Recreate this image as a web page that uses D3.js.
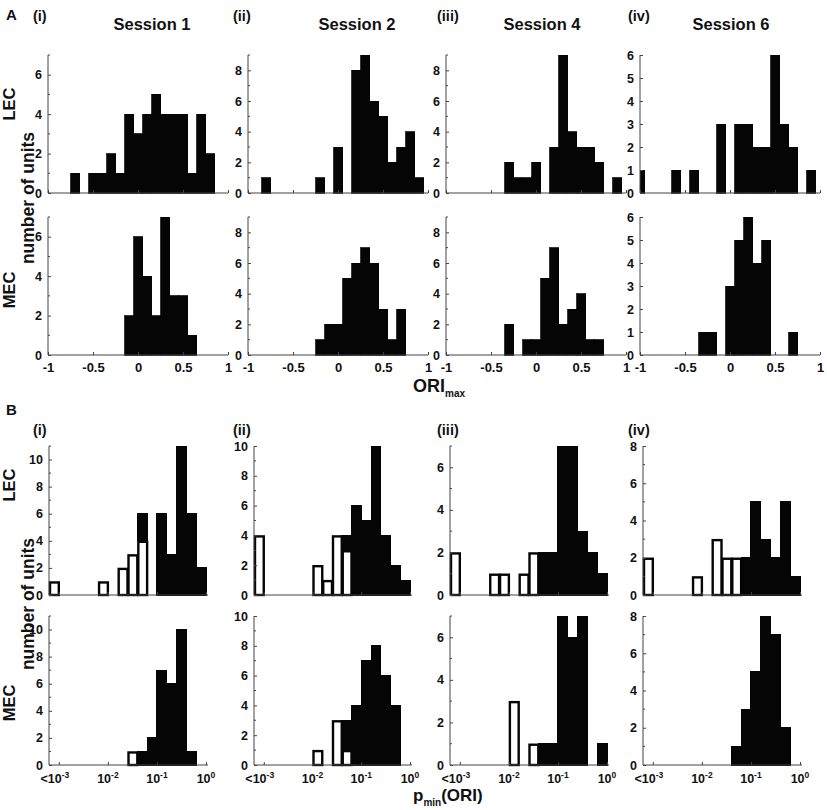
<!DOCTYPE html>
<html><head><meta charset="utf-8">
<script src="https://cdn.jsdelivr.net/npm/d3@7"></script>
<style>
html,body{margin:0;padding:0;background:#fff;}
svg text{font-family:"Liberation Sans",Arial,sans-serif;font-weight:bold;fill:#111;}
</style></head>
<body><svg id="c" width="827" height="810"></svg>
<script>
// ---------- DATA ----------
const sessions = ["Session 1", "Session 2", "Session 4", "Session 6"];
const romans = ["(i)", "(ii)", "(iii)", "(iv)"];
// Panel A: ORI_max histogram bin centres
const oriCenters = [-1.0,-0.9,-0.8,-0.7,-0.6,-0.5,-0.4,-0.3,-0.2,-0.1,0.0,0.1,0.2,0.3,0.4,0.5,0.6,0.7,0.8,0.9,1.0];
const oriTicks = [-1, -0.5, 0, 0.5, 1];
const oriTickLabels = ["-1", "-0.5", "0", "0.5", "1"];
const aLEC_s1 = [0,0,0,1,0,1,1,2,1,4,3,4,5,4,4,4,1,4,2,0,0];
const aLEC_s2 = [0,0,1,0,0,0,0,0,1,0,3,0,8,9,6,5,2,3,4,1,0];
const aLEC_s4 = [0,0,0,0,0,0,0,2,1,1,2,0,3,9,4,3,3,2,0,1,0];
const aLEC_s6 = [1,0,0,0,1,0,1,0,0,3,0,3,3,2,2,6,3,2,0,1,0];
const aMEC_s1 = [0,0,0,0,0,0,0,0,0,2,6,4,2,7,3,3,1,0,0,0,0];
const aMEC_s2 = [0,0,0,0,0,0,0,0,1,2,2,5,6,7,6,3,1,3,0,0,0];
const aMEC_s4 = [0,0,0,0,0,0,0,2,0,1,1,5,7,2,3,4,1,1,0,0,0];
const aMEC_s6 = [0,0,0,0,0,0,0,1,1,0,3,5,6,4,5,0,0,1,0,0,0];
const aLECmax = [7, 9, 9, 6];
const aMECmax = [7, 9, 9, 6];
const aLECyTicks = [[0,2,4,6],[0,2,4,6,8],[0,2,4,6,8],[0,1,2,3,4,5,6]];
const aMECyTicks = [[0,2,4,6],[0,2,4,6,8],[0,2,4,6,8],[0,1,2,3,4,5,6]];
// Panel B: log10 p_min(ORI) bin edges (first bin collects p < 10^-3)
const pBinEdges = [-3.2,-3.0,-2.8,-2.6,-2.4,-2.2,-2.0,-1.8,-1.6,-1.4,-1.2,-1.0,-0.8,-0.6,-0.4,-0.2,0.0];
const pTicks = [-3, -2, -1, 0];
const pTickBase = ["<10", "10", "10", "10"];
const pTickExp = ["-3", "-2", "-1", "0"];
// open (white) = significant units, filled (black) = non-significant
const bLEC_s1_open = [1,0,0,0,0,1,0,2,3,4,0,0,0,0,0,0];
const bLEC_s1_fill = [0,0,0,0,0,0,0,0,0,2,0,6,3,11,6,2];
const bLEC_s2_open = [4,0,0,0,0,0,2,1,4,3,0,0,0,0,0,0];
const bLEC_s2_fill = [0,0,0,0,0,0,0,0,0,1,6,5,10,4,2,1];
const bLEC_s4_open = [2,0,0,0,1,1,0,1,2,0,0,0,0,0,0,0];
const bLEC_s4_fill = [0,0,0,0,0,0,0,0,0,2,2,7,7,3,2,1];
const bLEC_s6_open = [2,0,0,0,0,1,0,3,2,2,0,0,0,0,0,0];
const bLEC_s6_fill = [0,0,0,0,0,0,0,0,0,0,2,5,3,2,5,1];
const bMEC_s1_open = [0,0,0,0,0,0,0,0,1,0,0,0,0,0,0,0];
const bMEC_s1_fill = [0,0,0,0,0,0,0,0,0,1,2,7,6,10,1,0];
const bMEC_s2_open = [0,0,0,0,0,0,1,0,3,1,0,0,0,0,0,0];
const bMEC_s2_fill = [0,0,0,0,0,0,0,0,0,2,4,7,8,6,4,0];
const bMEC_s4_open = [0,0,0,0,0,0,3,0,1,0,0,0,0,0,0,0];
const bMEC_s4_fill = [0,0,0,0,0,0,0,0,0,1,1,7,6,7,0,1];
const bMEC_s6_open = [0,0,0,0,0,0,0,0,0,0,0,0,0,0,0,0];
const bMEC_s6_fill = [0,0,0,0,0,0,0,0,0,1,3,5,8,7,2,0];
const bLECmax = [11, 10, 7, 8];
const bMECmax = [11, 10, 7, 8];
const bLECyTicks = [[0,2,4,6,8,10],[0,2,4,6,8,10],[0,2,4,6],[0,2,4,6,8]];
const bMECyTicks = [[0,2,4,6,8,10],[0,2,4,6,8,10],[0,2,4,6],[0,2,4,6,8]];

// ---------- LAYOUT ----------
const svg = d3.select("#c");
const aCols = [[48,228],[248,428],[446,626],[640,820]];
const aRows = {LEC:[55,193], MEC:[217,355]};
const bCols = [[49,206],[254,410],[450,607],[643,800]];
const bRows = {LEC:[446,595], MEC:[616,765]};
const axisColor = "#444";
const tickFont = 12.5;

function yAxis(g, y, ymax, ticks, xPos) {
  const ax = d3.axisLeft(y).tickValues(ticks).tickSize(-3).tickPadding(6).tickFormat(d3.format("d"));
  const gg = g.append("g").attr("transform", `translate(${xPos},0)`).call(ax);
  gg.select(".domain").attr("stroke", axisColor).attr("d", `M0,${y(0)}V${y(ymax)}`);
  gg.selectAll(".tick line").attr("stroke", axisColor);
  gg.selectAll(".tick text").attr("font-size", tickFont).attr("font-family", "Liberation Sans, Arial").attr("font-weight","bold").attr("fill","#111");
  const minor = d3.range(0, ymax + 1).filter(v => ticks.indexOf(v) < 0);
  gg.selectAll("line.minor").data(minor).enter().append("line").attr("class","minor")
    .attr("x1",0).attr("x2",2).attr("y1",d=>y(d)).attr("y2",d=>y(d)).attr("stroke",axisColor);
}

// ---------- PANEL A ----------
const aSeries = {
  LEC: [aLEC_s1, aLEC_s2, aLEC_s4, aLEC_s6],
  MEC: [aMEC_s1, aMEC_s2, aMEC_s4, aMEC_s6]
};
["LEC","MEC"].forEach(row => {
  const [top, bot] = aRows[row];
  aSeries[row].forEach((counts, ci) => {
    const [x0, x1] = aCols[ci];
    const ymax = row === "LEC" ? aLECmax[ci] : aMECmax[ci];
    const ticks = row === "LEC" ? aLECyTicks[ci] : aMECyTicks[ci];
    const x = d3.scaleLinear().domain([-1, 1]).range([x0, x1]);
    const y = d3.scaleLinear().domain([0, ymax]).range([bot, top]);
    const g = svg.append("g");
    const half = 0.05;
    g.selectAll("rect").data(oriCenters.map((c, i) => ({c, n: counts[i]})).filter(d => d.n > 0))
      .enter().append("rect")
      .attr("x", d => x(Math.max(-1, d.c - half)))
      .attr("width", d => x(Math.min(1, d.c + half)) - x(Math.max(-1, d.c - half)))
      .attr("y", d => y(d.n)).attr("height", d => y(0) - y(d.n))
      .attr("fill", "#050505").attr("stroke", "#050505").attr("stroke-width", 0.8)
      .attr("shape-rendering", "crispEdges");
    yAxis(g, y, ymax, ticks, x0);
    const xa = d3.axisBottom(x).tickValues(oriTicks).tickSize(-3).tickPadding(8)
      .tickFormat((d, i) => oriTickLabels[i]);
    const gx = g.append("g").attr("transform", `translate(0,${bot})`).call(xa);
    gx.select(".domain").attr("stroke", axisColor).attr("d", `M${x0},0H${x1}`);
    gx.selectAll(".tick line").attr("stroke", axisColor);
    gx.selectAll(".tick text").attr("font-size", 13).attr("font-family","Liberation Sans, Arial").attr("font-weight","bold").attr("fill","#111");
    if (row === "LEC") gx.selectAll(".tick text").remove();
  });
});

// ---------- PANEL B ----------
const bSeries = {
  LEC: [[bLEC_s1_open,bLEC_s1_fill],[bLEC_s2_open,bLEC_s2_fill],[bLEC_s4_open,bLEC_s4_fill],[bLEC_s6_open,bLEC_s6_fill]],
  MEC: [[bMEC_s1_open,bMEC_s1_fill],[bMEC_s2_open,bMEC_s2_fill],[bMEC_s4_open,bMEC_s4_fill],[bMEC_s6_open,bMEC_s6_fill]]
};
["LEC","MEC"].forEach(row => {
  const [top, bot] = bRows[row];
  bSeries[row].forEach(([open, fill], ci) => {
    const [x0, x1] = bCols[ci];
    const ymax = row === "LEC" ? bLECmax[ci] : bMECmax[ci];
    const ticks = row === "LEC" ? bLECyTicks[ci] : bMECyTicks[ci];
    const x = d3.scaleLinear().domain([pBinEdges[0], pBinEdges[pBinEdges.length - 1]]).range([x0, x1]);
    const y = d3.scaleLinear().domain([0, ymax]).range([bot, top]);
    const g = svg.append("g");
    const bins = open.map((o, i) => ({lo: pBinEdges[i], hi: pBinEdges[i + 1], o, f: fill[i]}));
    g.selectAll("rect.f").data(bins.filter(d => d.f > 0)).enter().append("rect").attr("class","f")
      .attr("x", d => x(d.lo)).attr("width", d => x(d.hi) - x(d.lo))
      .attr("y", d => y(d.o + d.f)).attr("height", d => y(d.o) - y(d.o + d.f))
      .attr("fill", "#050505").attr("stroke", "#050505").attr("stroke-width", 1)
      .attr("shape-rendering", "crispEdges");
    g.selectAll("rect.o").data(bins.filter(d => d.o > 0)).enter().append("rect").attr("class","o")
      .attr("x", d => x(d.lo) + 1).attr("width", d => x(d.hi) - x(d.lo) - 1)
      .attr("y", d => y(d.o) + 1).attr("height", d => y(0) - y(d.o) - 1)
      .attr("fill", "#fff").attr("stroke", "#050505").attr("stroke-width", 2.4);
    yAxis(g, y, ymax, ticks, x0);
    const xa = d3.axisBottom(x).tickValues(pTicks).tickSize(-3).tickPadding(6).tickFormat("");
    const gx = g.append("g").attr("transform", `translate(0,${bot})`).call(xa);
    gx.select(".domain").attr("stroke", axisColor).attr("d", `M${x0},0H${x1 + 2}`);
    gx.selectAll(".tick line").attr("stroke", axisColor);
    if (row === "MEC") {
      pTicks.forEach((t, i) => {
        const tx = g.append("text").attr("x", x(t) + (i === 0 ? -4 : 0)).attr("y", bot + 18)
          .attr("text-anchor", "middle").attr("font-size", 12.5);
        tx.append("tspan").text(pTickBase[i]);
        tx.append("tspan").attr("dy", -5).attr("font-size", 8.5).text(pTickExp[i]);
      });
    }
  });
});

// ---------- TEXT ----------
function txt(x, y, s, size, anchor, rot) {
  const t = svg.append("text").attr("font-size", size).attr("text-anchor", anchor || "start");
  if (rot) t.attr("transform", `translate(${x},${y}) rotate(-90)`);
  else t.attr("x", x).attr("y", y);
  t.text(s);
  return t;
}
txt(6, 20, "A", 15);
txt(6, 415, "B", 15);
const romanX = [33, 233, 437, 628];
const sessionX = [152, 357, 542, 731];
romans.forEach((r, i) => {
  txt(romanX[i], 21, r, 14.5);
  txt(sessionX[i], 30, sessions[i], 16.5, "middle");
  txt(romanX[i], 435, r, 14.5);
});
txt(15, 104, "LEC", 16.5, "middle", true);
txt(15, 290, "MEC", 16.5, "middle", true);
txt(34, 198, "number of units", 17.5, "middle", true);
txt(15, 485, "LEC", 16.5, "middle", true);
txt(15, 703, "MEC", 16.5, "middle", true);
txt(34, 604, "number of units", 17.5, "middle", true);
const t1 = svg.append("text").attr("x", 413).attr("y", 392).attr("font-size", 18);
t1.append("tspan").text("ORI");
t1.append("tspan").attr("font-size", 10).attr("dy", 5).text("max");
const t2 = svg.append("text").attr("x", 413).attr("y", 801).attr("font-size", 17);
t2.append("tspan").text("p");
t2.append("tspan").attr("font-size", 10).attr("dy", 5).text("min");
t2.append("tspan").attr("dy", -5).text("(ORI)");
</script></body></html>
